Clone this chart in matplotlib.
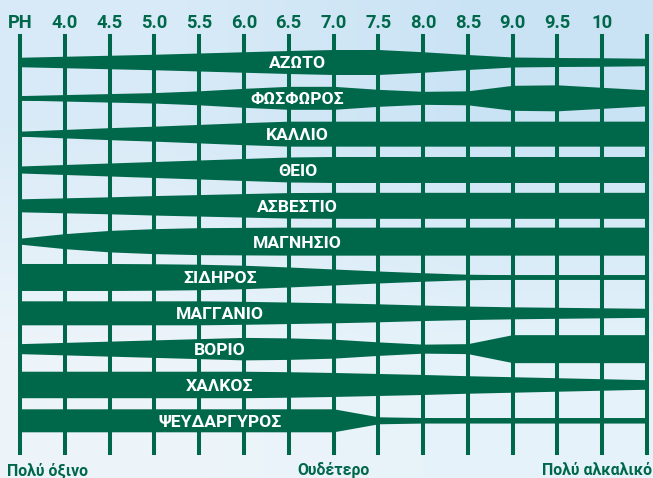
import matplotlib.pyplot as plt
import matplotlib.transforms as mtransforms
import numpy as np

# pH grid (left edge 3.5 .. right edge 10.5)
ph = [3.5, 4.0, 4.5, 5.0, 5.5, 6.0, 6.5, 7.0, 7.5, 8.0, 8.5, 9.0, 9.5, 10.0, 10.5]

nutrients = ["ΑΖΩΤΟ", "ΦΩΣΦΩΡΟΣ", "ΚΑΛΛΙΟ", "ΘΕΙΟ", "ΑΣΒΕΣΤΙΟ", "ΜΑΓΝΗΣΙΟ",
             "ΣΙΔΗΡΟΣ", "ΜΑΓΓΑΝΙΟ", "ΒΟΡΙΟ", "ΧΑΛΚΟΣ", "ΨΕΥΔΑΡΓΥΡΟΣ"]

# band thickness (availability) at each pH
azoto = [9.5, 11.5, 13.5, 15.5, 18, 20.5, 23, 25, 25, 20.5, 15, 10, 9, 8.5, 7.5]
fosforos = [4.5, 6.5, 8.5, 10.5, 14, 19, 23, 23, 17, 13, 14, 25, 26, 21, 16]
kallio = [5, 8.5, 12, 15, 18.5, 22, 25, 25, 25, 25, 25, 25, 25, 25, 25]
theio = [7, 10, 13, 16, 19, 22, 25, 26, 26, 26, 26, 26, 26, 26, 26]
asvestio = [13, 15, 17, 19.5, 21.5, 23.5, 25.5, 26, 26, 26, 26, 26, 26, 26, 26]
magnisio = [6, 15, 21.5, 25, 27, 27.5, 28, 28, 28, 28, 28, 28, 28, 28, 28]
sidiros = [27, 27, 27, 26.5, 25.5, 23.5, 20, 16, 12, 8.5, 5.5, 4.5, 4.5, 4.5, 4.5]
magganio = [24, 24, 24, 24, 24, 23, 21.5, 20, 18, 15.5, 13.5, 12, 11, 10, 9]
vorio = [10, 12.5, 15, 17.5, 20, 22.5, 21.5, 19, 13.5, 9, 10, 28, 28, 28, 28]
chalkos = [26.5, 26.5, 26.5, 26.5, 26.5, 26.5, 25.5, 24, 22, 20, 17.5, 15.5, 13.5, 11.5, 9.5]
psevdargyros = [23, 23, 23, 23, 23, 23, 23, 23, 7, 5.5, 5.5, 5.5, 5.5, 5.5, 5.5]

bands = [azoto, fosforos, kallio, theio, asvestio, magnisio,
         sidiros, magganio, vorio, chalkos, psevdargyros]

tick_ph = [3.5, 4.0, 4.5, 5.0, 5.5, 6.0, 6.5, 7.0, 7.5, 8.0, 8.5, 9.0, 9.5, 10.0]
tick_labels = ["PH", "4.0", "4.5", "5.0", "5.5", "6.0", "6.5", "7.0", "7.5",
               "8.0", "8.5", "9.0", "9.5", "10"]

label_ph = [6.6, 6.6, 6.6, 6.6, 6.6, 6.6, 5.73, 5.73, 5.73, 5.73, 5.73]

GREEN = "#00684a"
FONT = ["Roboto", "DejaVu Sans"]
W, H = 653, 478
ROW_PX = 35.83  # pixel spacing between band rows

plt.rcParams["font.family"] = FONT

fig = plt.figure(figsize=(W / 100, H / 100), dpi=100)

# light blue gradient background
bg = fig.add_axes([0, 0, 1, 1])
bg.axis("off")
corners = np.array([[[0.85, 0.92, 0.97], [0.79, 0.89, 0.96]],
                    [[0.93, 0.96, 0.98], [0.90, 0.95, 0.98]]])
bg.imshow(corners, extent=[0, 1, 0, 1], aspect="auto", interpolation="bilinear")
bg.set_xlim(0, 1)
bg.set_ylim(0, 1)

ax = fig.add_axes([20 / W, (H - 453) / H, 627 / W, 417 / H])
ax.patch.set_alpha(0)
for s in ax.spines.values():
    s.set_visible(False)

rows = np.arange(len(nutrients))
ax.set_xlim(ph[0], ph[-1])
ax.set_ylim((453 - 62) / ROW_PX, (36 - 62) / ROW_PX)

# grid
for x in ph:
    ax.axvline(x, color=GREEN, lw=2.9, clip_on=False, zorder=1)
ax.hlines(rows, ph[0], ph[-1], color=GREEN, lw=3.3, zorder=1)

# bands
for i, vals in enumerate(bands):
    half = np.array(vals) / 2 / ROW_PX
    ax.fill_between(ph, i - half, i + half, color=GREEN, lw=0, zorder=2)
    ax.text(label_ph[i], i + 6.5 / ROW_PX, nutrients[i], color="white",
            fontsize=12.6, fontweight="bold", ha="center", va="baseline", zorder=3)

# top pH scale
ax.xaxis.tick_top()
ax.set_xticks(tick_ph, tick_labels)
ax.tick_params(axis="x", length=0, pad=3, labelsize=13.2, labelcolor=GREEN)
for t in ax.get_xticklabels():
    t.set_fontweight("bold")
ax.set_yticks([])

# bottom captions
bottom = mtransforms.blended_transform_factory(ax.transData, fig.transFigure)
fig.text(7 / W, 3 / H, "Πολύ όξινο", color=GREEN, fontsize=11.4,
         fontweight="bold", ha="left", va="baseline")
ax.text(7.0, 3 / H, "Ουδέτερο", color=GREEN, fontsize=11.4, fontweight="bold",
        ha="center", va="baseline", transform=bottom)
fig.text(652 / W, 3 / H, "Πολύ αλκαλικό", color=GREEN, fontsize=11.4,
         fontweight="bold", ha="right", va="baseline")

fig.savefig("out.png", dpi=100)
